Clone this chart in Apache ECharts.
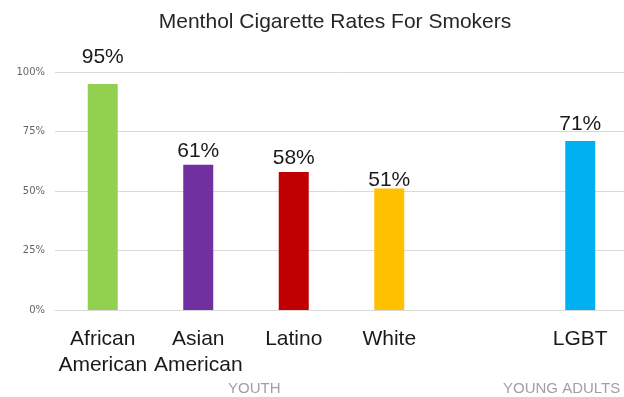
<!DOCTYPE html>
<html>
<head>
<meta charset="utf-8">
<script src="https://cdn.jsdelivr.net/npm/echarts@6/dist/echarts.min.js"></script>
<style>
  html, body { margin: 0; padding: 0; background: #fff; overflow: hidden; }
  /* a few px wider than the window so the last slot lines up */
  #chart { width: 628px; height: 397px; }
</style>
</head>
<body>
<div id="chart"></div>
<script>
  // categories (empty slot separates youth from young adults)
  const categories = ['African\nAmerican', 'Asian\nAmerican', 'Latino', 'White', '', 'LGBT']
  const rates = [95, 61, 58, 51, null, 71]
  const yTicks = [0, 25, 50, 75, 100]
  const groupNames = ['YOUTH', 'YOUNG ADULTS']

  // styling per bar
  const barColors = ['#92D050', '#7030A0', '#C00000', '#FFC000', '#ffffff', '#00B0F0']
  const labelGap = [16, 3, 3, -2, 0, 6]

  const chart = echarts.init(document.getElementById('chart'))
  const font = 'Liberation Sans, Arial, sans-serif'

  const seriesData = rates.map((v, i) => {
    return {
      value: v,
      itemStyle: { color: barColors[i] },
      label: { distance: labelGap[i] }
    }
  })

  const option = {
    animation: false,
    title: {
      text: 'Menthol Cigarette Rates For Smokers',
      left: 335,
      top: 12,
      padding: 0,
      textAlign: 'center',
      textStyle: { fontFamily: font, fontSize: 21, fontWeight: 'normal', color: '#262626' }
    },
    grid: { left: 55, right: 0, top: 72, bottom: 87 },
    xAxis: {
      type: 'category',
      data: categories,
      axisTick: { show: false },
      axisLine: { lineStyle: { color: '#d9d9d9', width: 1 } },
      axisLabel: {
        interval: 0,
        margin: 16,
        fontFamily: font,
        fontSize: 21,
        lineHeight: 26,
        color: '#1a1a1a'
      }
    },
    yAxis: {
      type: 'value',
      min: 0,
      max: 100,
      interval: 25,
      axisLine: { show: false },
      axisTick: { show: false },
      splitLine: { lineStyle: { color: '#d9d9d9' } },
      axisLabel: {
        margin: 10,
        fontFamily: 'DejaVu Sans, sans-serif',
        fontSize: 10,
        color: '#666',
        formatter: v => yTicks.includes(v) ? v + '%' : ''
      }
    },
    series: [{
      type: 'bar',
      data: seriesData,
      barWidth: 30,
      label: {
        show: true,
        position: 'top',
        fontFamily: font,
        fontSize: 21,
        color: '#1a1a1a',
        formatter: p => p.value == null ? '' : p.value + '%'
      }
    }],
    graphic: [
      {
        type: 'text', left: 228, top: 381,
        style: { text: groupNames[0], fontFamily: font, fontSize: 15, fill: '#a0a0a0' }
      },
      {
        type: 'text', left: 503, top: 381,
        style: { text: groupNames[1], fontFamily: font, fontSize: 15, fill: '#a0a0a0' }
      }
    ]
  }
  chart.setOption(option)
</script>
</body>
</html>
